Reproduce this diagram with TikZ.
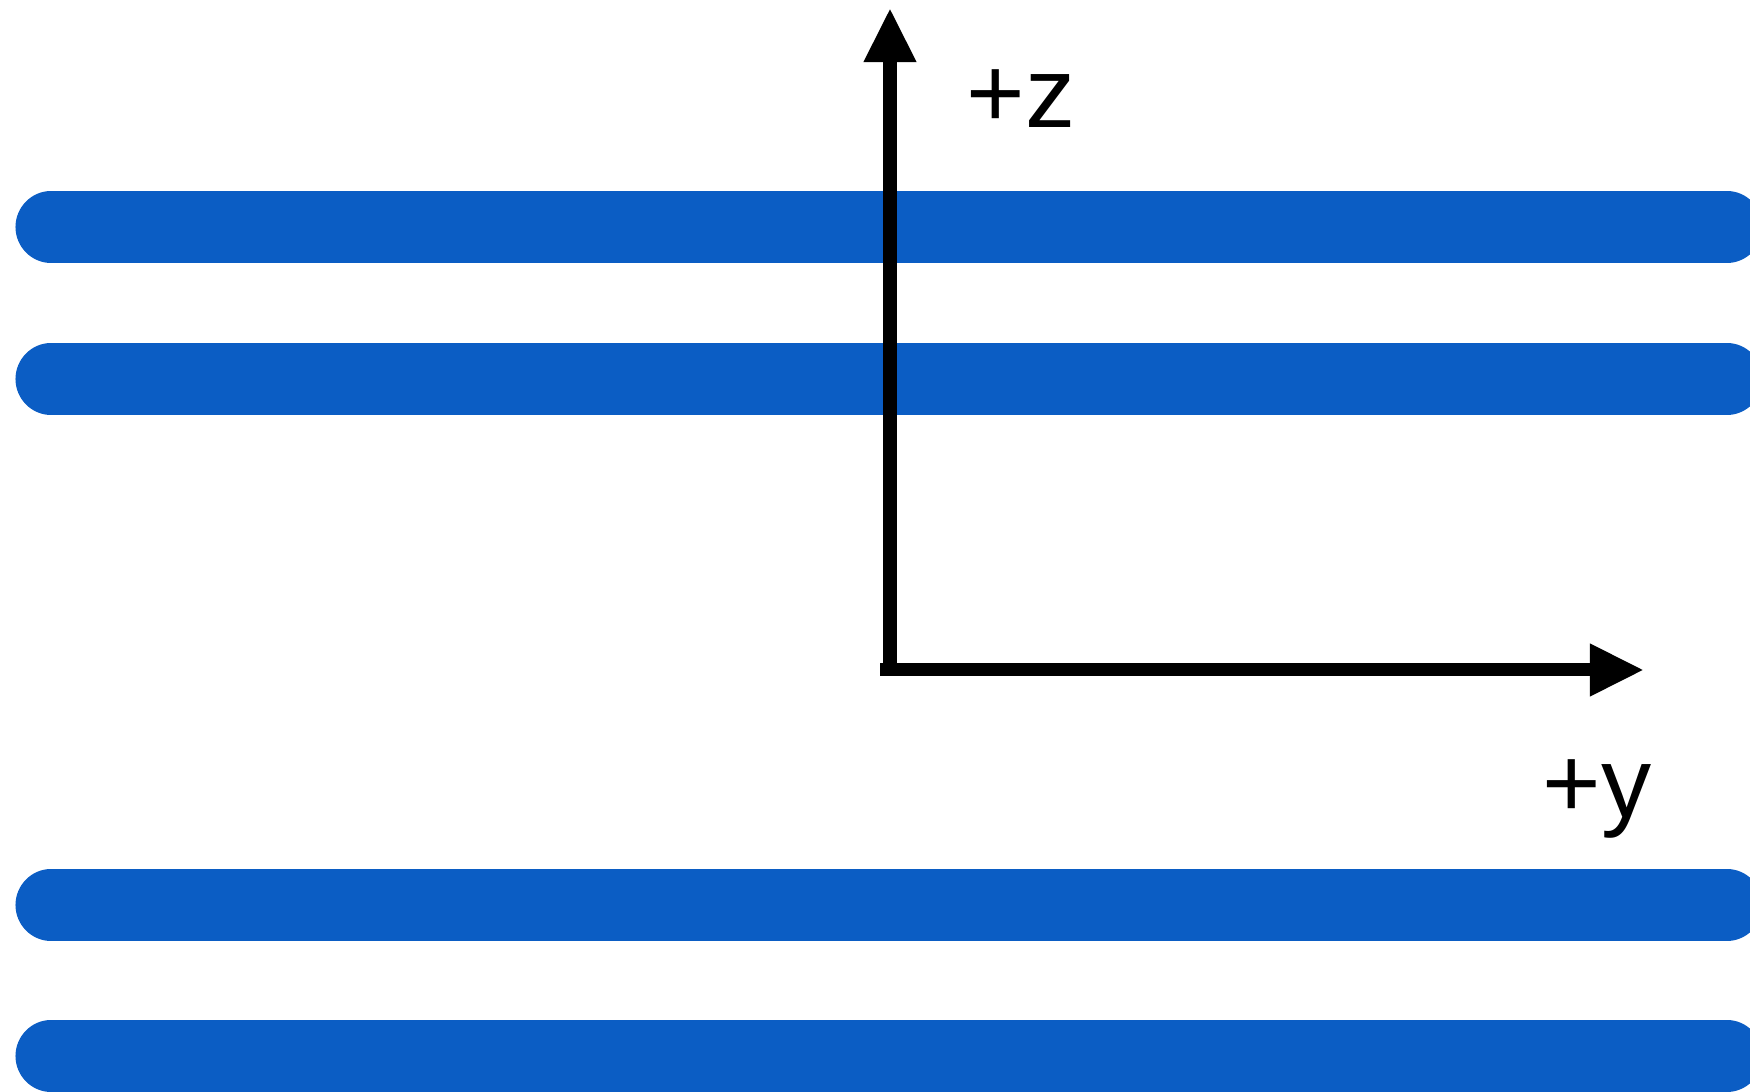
\documentclass[tikz,border=0pt]{standalone}
\usepackage{fontspec}
\setmainfont{Liberation Sans}
\usepackage{xcolor}
\usetikzlibrary{arrows.meta}
\definecolor{barblue}{RGB}{11,93,196}

\begin{document}
\begin{tikzpicture}[x=0.01cm, y=-0.01cm,
  bar/.style={line width=0.71cm, line cap=round, draw=barblue},
  axis/.style={line width=0.13cm, -{Triangle[length=0.54cm, width=0.49cm]}},
  lbl/.style={anchor=base west, inner sep=0pt, font=\fontsize{28.5}{34}\selectfont}
]
\useasboundingbox (0,0) rectangle (1750,1092);
\clip (0,0) rectangle (1750,1092);
\foreach \i/\yy in {1/227, 2/379, 3/905, 4/1056} {
  \coordinate (bar\i w) at (51,\yy);
  \coordinate (bar\i e) at (1727,\yy);
  \draw[bar] (bar\i w) -- (bar\i e);
}
\coordinate (zbase) at (890,664);
\coordinate (ztip) at (890,8);
\coordinate (ybase) at (880,670);
\coordinate (ytip) at (1644,670);
\draw[axis] (zbase) -- (ztip);
\draw[axis] (ybase) -- (ytip);
\node[lbl] (zlabel) at (966,128) {+z};
\node[lbl] (ylabel) at (1542,818) {+y};
\end{tikzpicture}
\end{document}
